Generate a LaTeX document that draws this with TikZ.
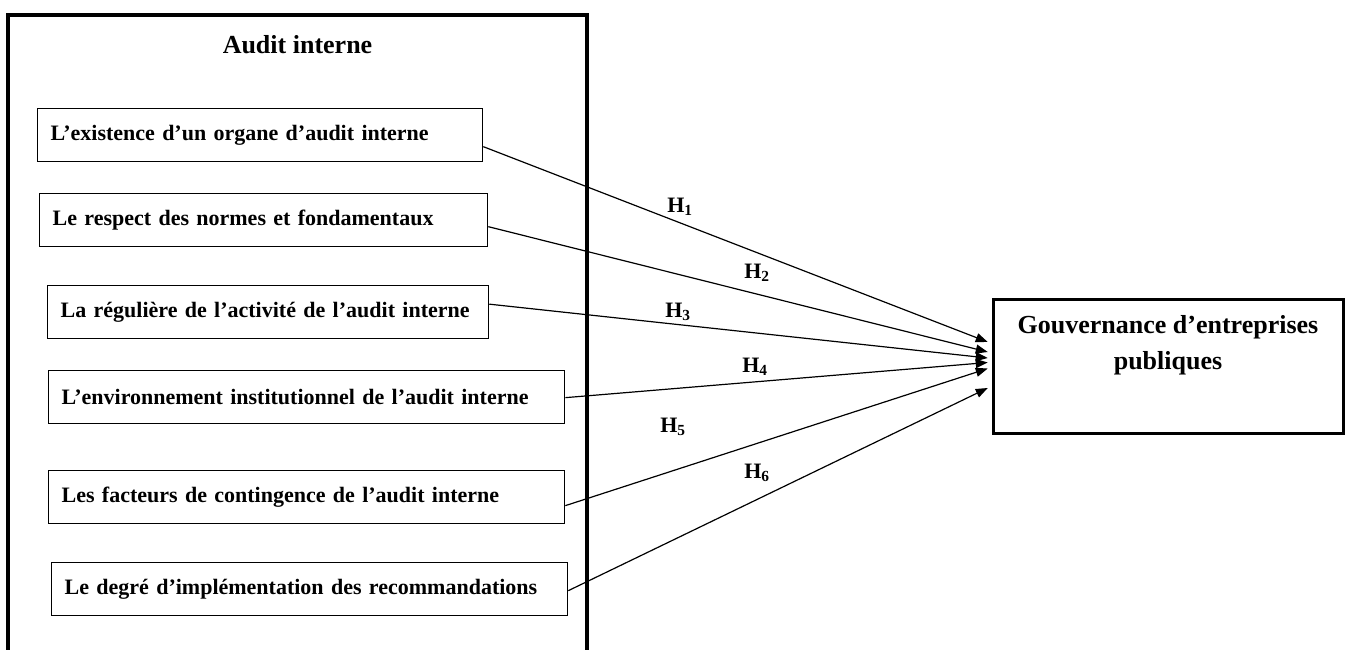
\documentclass[tikz,border=0pt]{standalone}
\usepackage{fontspec}
\setmainfont{Liberation Serif}
\usetikzlibrary{arrows.meta,calc}
\begin{document}
\begin{tikzpicture}[x=1pt,y=-1pt,
  itembox/.style={draw, line width=1.3pt, anchor=north west, inner xsep=13pt, inner ysep=0pt,
    minimum height=53pt, align=left, font=\fontsize{22}{26}\selectfont\bfseries},
  titletext/.style={font=\fontsize{26}{36}\selectfont\bfseries, align=center, inner sep=0pt},
  hlabel/.style={font=\fontsize{22}{26}\selectfont\bfseries, inner sep=0pt},
  arr/.style={line width=1.2pt, -{Triangle[length=12pt,width=9pt]}},
  frame/.style={line width=3.5pt}]
\useasboundingbox (0,0) rectangle (1349,649);
% outer frame
\draw[frame] (8,660) |- (587,15) -- (587,660);
\node[titletext] (title) at (297.5,45) {Audit interne};
% items
\node[itembox, text width=419pt] (b1) at (37,108) {L’existence d’un organe d’audit interne};
\node[itembox, text width=422pt] (b2) at (39,193) {Le respect des normes et fondamentaux};
\node[itembox, text width=415pt] (b3) at (47,285) {La régulière de l’activité de l’audit interne};
\node[itembox, text width=490pt] (b4) at (48,370) {L’environnement institutionnel de l’audit interne};
\node[itembox, text width=490pt] (b5) at (48,470) {Les facteurs de contingence de l’audit interne};
\node[itembox, text width=490pt] (b6) at (51,562) {Le degré d’implémentation des recommandations};
% target
\node[draw, frame, minimum width=350pt, minimum height=134pt, inner sep=0pt] (g) at (1168.5,366.5) {};
\node[titletext] (gt) at (1168,345) {Gouvernance d’entreprises\\publiques};
% connectors
\draw[arr] ($(b1.east)+(0,11.5)$) -- ($(g.west)+(-4,-24.5)$);
\draw[arr] ($(b2.east)+(0,6.5)$) -- ($(g.west)+(-4,-14.5)$);
\draw[arr] ($(b3.east)+(0,-8)$) -- ($(g.west)+(-4,-8.5)$);
\draw[arr] ($(b4.east)+(0,0.5)$) -- ($(g.west)+(-4,-4)$);
\draw[arr] ($(b5.east)+(0,8.5)$) -- ($(g.west)+(-4,2)$);
\draw[arr] ($(b6.east)+(0,1.5)$) -- ($(g.west)+(-4,21.5)$);
% labels
\node[hlabel] (h1) at (680,207) {H\textsubscript{1}};
\node[hlabel] (h2) at (757,273) {H\textsubscript{2}};
\node[hlabel] (h3) at (678,312) {H\textsubscript{3}};
\node[hlabel] (h4) at (755,367) {H\textsubscript{4}};
\node[hlabel] (h5) at (673,427) {H\textsubscript{5}};
\node[hlabel] (h6) at (757,473) {H\textsubscript{6}};
\end{tikzpicture}
\end{document}
